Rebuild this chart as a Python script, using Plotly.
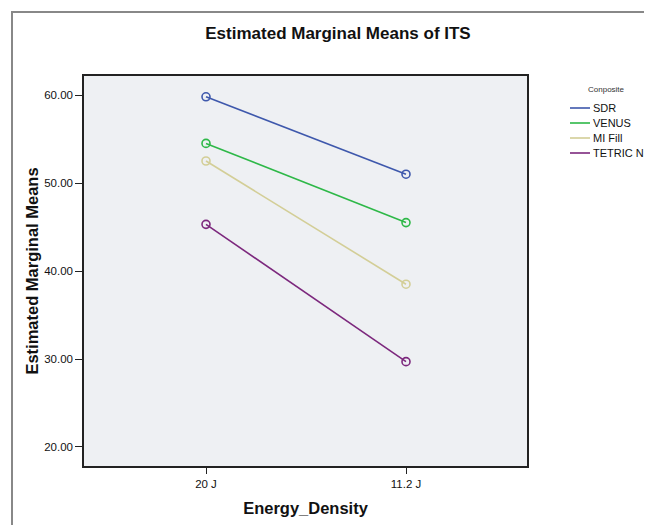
import plotly.graph_objects as go

categories = ["20 J", "11.2 J"]
series_names = ["SDR", "VENUS", "MI Fill", "TETRIC N"]
sdr = [59.8, 51.0]
venus = [54.5, 45.5]
mi_fill = [52.5, 38.5]
tetric_n = [45.3, 29.7]
colors = ["#3E58AC", "#2EB848", "#D3CE97", "#7C287D"]
y_ticks = [20, 30, 40, 50, 60]
legend_title = "Conposite"

W, H = 652, 525
OFF = 8  # page body margin offset
L, R, T, B = 84, 527, 76, 466  # target plot-area edges on screen

def px_x(p):
    return (p - L) / (R - L)

def px_y(p):
    return (B - p) / (B - T)

fig = go.Figure()
for name, vals, col in zip(series_names, [sdr, venus, mi_fill, tetric_n], colors):
    fig.add_trace(go.Scatter(
        x=[0, 1], y=vals, mode="lines+markers", name=name, showlegend=False,
        line=dict(color=col, width=1.6),
        marker=dict(symbol="circle-open", size=8, color=col, line=dict(width=1.6)),
    ))

shapes = [dict(type="rect", xref="paper", yref="paper",
               x0=px_x(12), x1=px_x(700), y0=px_y(560), y1=px_y(12),
               line=dict(color="#888", width=2), fillcolor="rgba(0,0,0,0)", layer="below")]
annotations = [dict(text=legend_title, xref="paper", yref="paper", x=px_x(606), y=px_y(89),
                    xanchor="center", yanchor="middle", showarrow=False,
                    font=dict(size=8, color="#333"))]
for i, (name, col) in enumerate(zip(series_names, colors)):
    yy = 108 + 15 * i
    shapes.append(dict(type="line", xref="paper", yref="paper",
                       x0=px_x(570), x1=px_x(590), y0=px_y(yy), y1=px_y(yy),
                       line=dict(color=col, width=1.6)))
    annotations.append(dict(text=name, xref="paper", yref="paper", x=px_x(591), y=px_y(yy),
                            xanchor="left", yanchor="middle", showarrow=False,
                            font=dict(size=11, color="#111")))

fig.update_layout(
    width=W, height=H,
    margin=dict(l=L - OFF, r=W - (R - OFF), t=T - OFF, b=H - (B - OFF), pad=0, autoexpand=False),
    paper_bgcolor="white",
    plot_bgcolor="#EEF0F3",
    font=dict(family="Liberation Sans, Arial, sans-serif", color="#111", size=11),
    title=dict(text="<b>Estimated Marginal Means of ITS</b>", x=px_x(338), xref="paper",
               xanchor="center", y=1 - (33 - OFF) / H, yanchor="middle", font=dict(size=17)),
    xaxis=dict(
        tickmode="array", tickvals=[0, 1], ticktext=categories,
        range=[-0.61, 1.605], showgrid=False, zeroline=False,
        showline=True, linecolor="#222", linewidth=1.5, mirror=True,
        ticks="outside", ticklen=6, tickcolor="#222", tickwidth=1.2,
        title=dict(text="<b>Energy_Density</b>", font=dict(size=16.5), standoff=14),
        tickfont=dict(size=11.5),
    ),
    yaxis=dict(
        tickmode="array", tickvals=y_ticks, tickformat=".2f",
        range=[17.84, 62.16], showgrid=False, zeroline=False,
        showline=True, linecolor="#222", linewidth=1.5, mirror=True,
        ticks="outside", ticklen=7, tickcolor="#222", tickwidth=1.2,
        title=dict(text="<b>Estimated Marginal Means</b>", font=dict(size=16.5), standoff=1),
        tickfont=dict(size=11.5),
    ),
    showlegend=False,
    shapes=shapes,
    annotations=annotations,
)

fig.write_html("out.html")
